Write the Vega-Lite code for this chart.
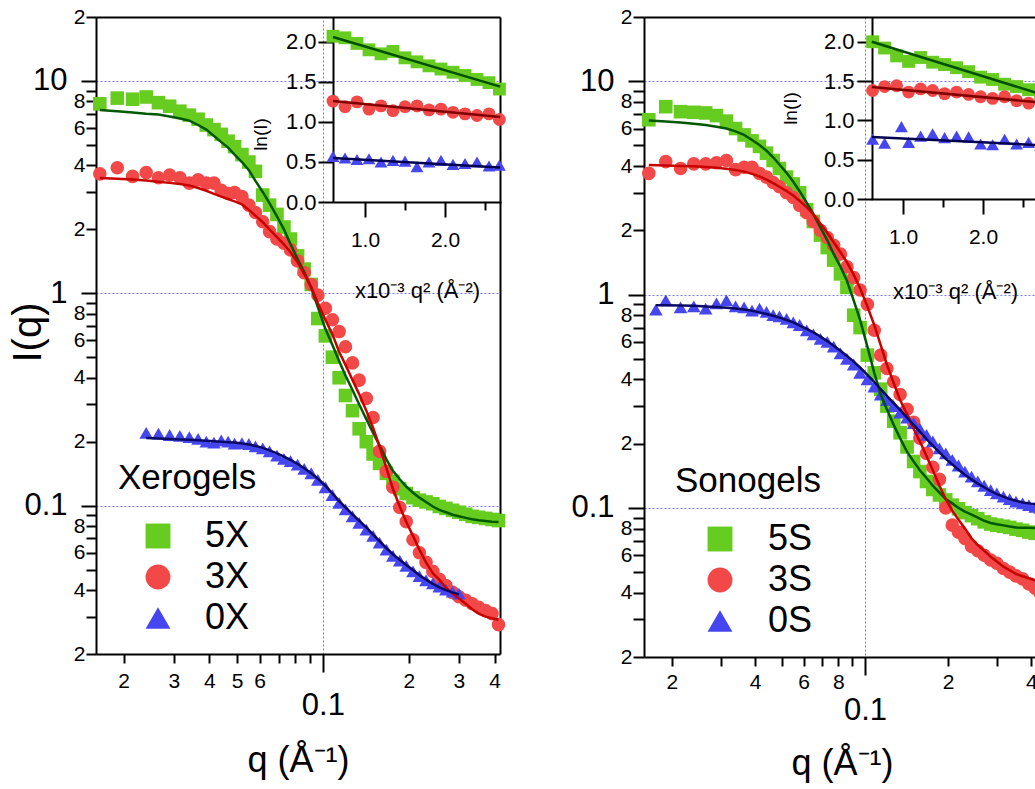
{
"$schema":"https://vega.github.io/schema/vega-lite/v6.json",
"autosize":{"type":"none"},
"padding":{"left":96,"top":17,"right":0,"bottom":132},
"width":939,"height":640,
"config":{"view":{"stroke":null},"font":"Liberation Sans",
"axis":{"domainColor":"#000","domainWidth":2,"tickColor":"#000","tickWidth":2,"labelColor":"#000","titleColor":"#000","titleFontWeight":"normal","labelFont":"Liberation Sans","titleFont":"Liberation Sans","grid":false,"labelOverlap":false,"labelBound":false,"labelFlush":false},
"legend":{"labelFont":"Liberation Sans","titleFont":"Liberation Sans","labelColor":"#000","titleColor":"#000"}},
"datasets":{
"lm":[
{"s":"5X","q":0.0165,"I":7.8,"f":7.3},{"s":"5X","q":0.019,"I":8.3,"f":7.2},{"s":"5X","q":0.0215,"I":8.2,"f":7.1},{"s":"5X","q":0.024,"I":8.4,"f":7.0},{"s":"5X","q":0.0265,"I":7.9,"f":6.95},{"s":"5X","q":0.029,"I":7.6,"f":6.8},{"s":"5X","q":0.0315,"I":7.2,"f":6.65},{"s":"5X","q":0.034,"I":6.9,"f":6.5},{"s":"5X","q":0.0365,"I":6.6,"f":6.2},{"s":"5X","q":0.039,"I":6.2,"f":5.9},{"s":"5X","q":0.0415,"I":5.9,"f":5.5},{"s":"5X","q":0.044,"I":5.6,"f":5.15},{"s":"5X","q":0.0465,"I":5.2,"f":4.85},{"s":"5X","q":0.049,"I":4.9,"f":4.5},{"s":"5X","q":0.052,"I":4.5,"f":4.15},{"s":"5X","q":0.055,"I":4.15,"f":3.8},{"s":"5X","q":0.058,"I":3.75,"f":3.38},{"s":"5X","q":0.0615,"I":2.9,"f":3.0},{"s":"5X","q":0.065,"I":2.6,"f":2.65},{"s":"5X","q":0.069,"I":2.35,"f":2.3},{"s":"5X","q":0.073,"I":2.05,"f":2.0},{"s":"5X","q":0.077,"I":1.8,"f":1.7},{"s":"5X","q":0.0815,"I":1.5,"f":1.45},{"s":"5X","q":0.086,"I":1.3,"f":1.26},{"s":"5X","q":0.091,"I":1.1,"f":1.06},{"s":"5X","q":0.096,"I":0.76,"f":0.86},{"s":"5X","q":0.102,"I":0.63,"f":0.68},{"s":"5X","q":0.108,"I":0.5,"f":0.57},{"s":"5X","q":0.114,"I":0.4,"f":0.48},{"s":"5X","q":0.12,"I":0.33,"f":0.41},{"s":"5X","q":0.127,"I":0.28,"f":0.35},{"s":"5X","q":0.134,"I":0.23,"f":0.3},{"s":"5X","q":0.142,"I":0.2,"f":0.255},{"s":"5X","q":0.15,"I":0.175,"f":0.22},{"s":"5X","q":0.158,"I":0.158,"f":0.192},{"s":"5X","q":0.167,"I":0.142,"f":0.165},{"s":"5X","q":0.176,"I":0.13,"f":0.146},{"s":"5X","q":0.186,"I":0.12,"f":0.133},{"s":"5X","q":0.196,"I":0.114,"f":0.123},{"s":"5X","q":0.207,"I":0.109,"f":0.115},{"s":"5X","q":0.218,"I":0.106,"f":0.109},{"s":"5X","q":0.23,"I":0.104,"f":0.104},{"s":"5X","q":0.243,"I":0.102,"f":0.099},{"s":"5X","q":0.256,"I":0.099,"f":0.0955},{"s":"5X","q":0.27,"I":0.097,"f":0.093},{"s":"5X","q":0.285,"I":0.095,"f":0.0905},{"s":"5X","q":0.3,"I":0.093,"f":0.089},{"s":"5X","q":0.317,"I":0.091,"f":0.0875},{"s":"5X","q":0.334,"I":0.089,"f":0.0862},{"s":"5X","q":0.352,"I":0.088,"f":0.0853},{"s":"5X","q":0.372,"I":0.087,"f":0.0846},{"s":"5X","q":0.392,"I":0.086,"f":0.084},{"s":"5X","q":0.413,"I":0.085,"f":0.0836},
{"s":"3X","q":0.0165,"I":3.65,"f":3.49},{"s":"3X","q":0.019,"I":3.9,"f":3.46},{"s":"3X","q":0.0215,"I":3.55,"f":3.43},{"s":"3X","q":0.024,"I":3.7,"f":3.4},{"s":"3X","q":0.0265,"I":3.5,"f":3.35},{"s":"3X","q":0.029,"I":3.6,"f":3.31},{"s":"3X","q":0.0315,"I":3.5,"f":3.27},{"s":"3X","q":0.034,"I":3.3,"f":3.22},{"s":"3X","q":0.0365,"I":3.42,"f":3.13},{"s":"3X","q":0.039,"I":3.3,"f":3.04},{"s":"3X","q":0.0415,"I":3.3,"f":2.94},{"s":"3X","q":0.044,"I":3.05,"f":2.85},{"s":"3X","q":0.0465,"I":2.95,"f":2.78},{"s":"3X","q":0.049,"I":2.98,"f":2.71},{"s":"3X","q":0.052,"I":2.85,"f":2.62},{"s":"3X","q":0.055,"I":2.6,"f":2.47},{"s":"3X","q":0.058,"I":2.4,"f":2.32},{"s":"3X","q":0.0615,"I":2.17,"f":2.16},{"s":"3X","q":0.065,"I":1.95,"f":2.0},{"s":"3X","q":0.069,"I":1.8,"f":1.84},{"s":"3X","q":0.073,"I":1.72,"f":1.7},{"s":"3X","q":0.077,"I":1.6,"f":1.56},{"s":"3X","q":0.0815,"I":1.42,"f":1.4},{"s":"3X","q":0.086,"I":1.25,"f":1.23},{"s":"3X","q":0.091,"I":1.1,"f":1.07},{"s":"3X","q":0.096,"I":0.98,"f":0.9},{"s":"3X","q":0.102,"I":0.85,"f":0.75},{"s":"3X","q":0.108,"I":0.75,"f":0.64},{"s":"3X","q":0.114,"I":0.66,"f":0.53},{"s":"3X","q":0.12,"I":0.56,"f":0.46},{"s":"3X","q":0.127,"I":0.47,"f":0.39},{"s":"3X","q":0.134,"I":0.39,"f":0.335},{"s":"3X","q":0.142,"I":0.32,"f":0.28},{"s":"3X","q":0.15,"I":0.26,"f":0.232},{"s":"3X","q":0.158,"I":0.18,"f":0.19},{"s":"3X","q":0.167,"I":0.145,"f":0.15},{"s":"3X","q":0.176,"I":0.122,"f":0.12},{"s":"3X","q":0.186,"I":0.098,"f":0.099},{"s":"3X","q":0.196,"I":0.084,"f":0.084},{"s":"3X","q":0.207,"I":0.069,"f":0.072},{"s":"3X","q":0.218,"I":0.06,"f":0.062},{"s":"3X","q":0.23,"I":0.054,"f":0.054},{"s":"3X","q":0.243,"I":0.049,"f":0.048},{"s":"3X","q":0.256,"I":0.045,"f":0.0448},{"s":"3X","q":0.27,"I":0.042,"f":0.041},{"s":"3X","q":0.285,"I":0.039,"f":0.0385},{"s":"3X","q":0.3,"I":0.0372,"f":0.0365},{"s":"3X","q":0.317,"I":0.0358,"f":0.0345},{"s":"3X","q":0.334,"I":0.0345,"f":0.0325},{"s":"3X","q":0.352,"I":0.0332,"f":0.031},{"s":"3X","q":0.372,"I":0.032,"f":0.03},{"s":"3X","q":0.392,"I":0.031,"f":0.0295},{"s":"3X","q":0.413,"I":0.0275,"f":0.029},
{"s":"0X","q":0.024,"I":0.22,"f":0.208},{"s":"0X","q":0.0265,"I":0.218,"f":0.207},{"s":"0X","q":0.029,"I":0.215,"f":0.206},{"s":"0X","q":0.0315,"I":0.213,"f":0.205},{"s":"0X","q":0.034,"I":0.21,"f":0.204},{"s":"0X","q":0.0365,"I":0.206,"f":0.203},{"s":"0X","q":0.039,"I":0.2,"f":0.202},{"s":"0X","q":0.0415,"I":0.198,"f":0.201},{"s":"0X","q":0.044,"I":0.203,"f":0.2},{"s":"0X","q":0.0465,"I":0.2,"f":0.199},{"s":"0X","q":0.049,"I":0.196,"f":0.198},{"s":"0X","q":0.052,"I":0.197,"f":0.196},{"s":"0X","q":0.055,"I":0.195,"f":0.194},{"s":"0X","q":0.058,"I":0.19,"f":0.191},{"s":"0X","q":0.0615,"I":0.186,"f":0.187},{"s":"0X","q":0.065,"I":0.18,"f":0.182},{"s":"0X","q":0.069,"I":0.172,"f":0.176},{"s":"0X","q":0.073,"I":0.166,"f":0.17},{"s":"0X","q":0.077,"I":0.162,"f":0.164},{"s":"0X","q":0.0815,"I":0.156,"f":0.157},{"s":"0X","q":0.086,"I":0.149,"f":0.15},{"s":"0X","q":0.091,"I":0.142,"f":0.142},{"s":"0X","q":0.096,"I":0.132,"f":0.134},{"s":"0X","q":0.102,"I":0.122,"f":0.124},{"s":"0X","q":0.108,"I":0.112,"f":0.114},{"s":"0X","q":0.114,"I":0.103,"f":0.105},{"s":"0X","q":0.12,"I":0.096,"f":0.098},{"s":"0X","q":0.127,"I":0.089,"f":0.091},{"s":"0X","q":0.134,"I":0.083,"f":0.085},{"s":"0X","q":0.142,"I":0.077,"f":0.079},{"s":"0X","q":0.15,"I":0.072,"f":0.073},{"s":"0X","q":0.158,"I":0.067,"f":0.068},{"s":"0X","q":0.167,"I":0.062,"f":0.063},{"s":"0X","q":0.176,"I":0.058,"f":0.059},{"s":"0X","q":0.186,"I":0.055,"f":0.0555},{"s":"0X","q":0.196,"I":0.052,"f":0.0525},{"s":"0X","q":0.207,"I":0.049,"f":0.0497},{"s":"0X","q":0.218,"I":0.0465,"f":0.047},{"s":"0X","q":0.23,"I":0.0445,"f":0.0448},{"s":"0X","q":0.243,"I":0.043,"f":0.0428},{"s":"0X","q":0.256,"I":0.0415,"f":0.0412},{"s":"0X","q":0.27,"I":0.0402,"f":0.04},{"s":"0X","q":0.285,"I":0.0393,"f":0.039},{"s":"0X","q":0.3,"I":0.0385,"f":0.0382}
],
"rm":[
{"s":"5S","q":0.0165,"I":6.6,"f":6.55},{"s":"5S","q":0.019,"I":7.6,"f":6.48},{"s":"5S","q":0.0215,"I":7.2,"f":6.4},{"s":"5S","q":0.024,"I":7.15,"f":6.32},{"s":"5S","q":0.0265,"I":7.1,"f":6.24},{"s":"5S","q":0.029,"I":6.9,"f":6.12},{"s":"5S","q":0.0315,"I":6.5,"f":6.0},{"s":"5S","q":0.034,"I":6.0,"f":5.82},{"s":"5S","q":0.0365,"I":5.6,"f":5.6},{"s":"5S","q":0.039,"I":5.25,"f":5.3},{"s":"5S","q":0.0415,"I":4.95,"f":5.02},{"s":"5S","q":0.044,"I":4.6,"f":4.72},{"s":"5S","q":0.0465,"I":4.25,"f":4.4},{"s":"5S","q":0.049,"I":3.9,"f":4.07},{"s":"5S","q":0.052,"I":3.55,"f":3.72},{"s":"5S","q":0.055,"I":3.3,"f":3.38},{"s":"5S","q":0.058,"I":3.0,"f":3.05},{"s":"5S","q":0.0615,"I":2.5,"f":2.7},{"s":"5S","q":0.065,"I":2.2,"f":2.38},{"s":"5S","q":0.069,"I":1.9,"f":2.06},{"s":"5S","q":0.073,"I":1.66,"f":1.8},{"s":"5S","q":0.077,"I":1.45,"f":1.55},{"s":"5S","q":0.0815,"I":1.25,"f":1.35},{"s":"5S","q":0.086,"I":1.08,"f":1.16},{"s":"5S","q":0.091,"I":0.8,"f":0.94},{"s":"5S","q":0.096,"I":0.7,"f":0.76},{"s":"5S","q":0.102,"I":0.52,"f":0.57},{"s":"5S","q":0.108,"I":0.43,"f":0.43},{"s":"5S","q":0.114,"I":0.36,"f":0.34},{"s":"5S","q":0.12,"I":0.3,"f":0.29},{"s":"5S","q":0.127,"I":0.255,"f":0.245},{"s":"5S","q":0.134,"I":0.225,"f":0.212},{"s":"5S","q":0.142,"I":0.193,"f":0.183},{"s":"5S","q":0.15,"I":0.165,"f":0.165},{"s":"5S","q":0.158,"I":0.148,"f":0.15},{"s":"5S","q":0.167,"I":0.133,"f":0.138},{"s":"5S","q":0.176,"I":0.122,"f":0.127},{"s":"5S","q":0.186,"I":0.115,"f":0.118},{"s":"5S","q":0.196,"I":0.109,"f":0.11},{"s":"5S","q":0.207,"I":0.103,"f":0.105},{"s":"5S","q":0.218,"I":0.099,"f":0.1},{"s":"5S","q":0.23,"I":0.095,"f":0.096},{"s":"5S","q":0.243,"I":0.092,"f":0.093},{"s":"5S","q":0.256,"I":0.089,"f":0.09},{"s":"5S","q":0.27,"I":0.086,"f":0.087},{"s":"5S","q":0.285,"I":0.084,"f":0.085},{"s":"5S","q":0.3,"I":0.083,"f":0.0838},{"s":"5S","q":0.317,"I":0.082,"f":0.0828},{"s":"5S","q":0.334,"I":0.081,"f":0.0818},{"s":"5S","q":0.352,"I":0.0795,"f":0.081},{"s":"5S","q":0.372,"I":0.0785,"f":0.0808},{"s":"5S","q":0.392,"I":0.077,"f":0.0806},{"s":"5S","q":0.413,"I":0.076,"f":0.0805},{"s":"5S","q":0.43,"I":0.076,"f":0.0804},
{"s":"3S","q":0.0165,"I":3.7,"f":4.05},{"s":"3S","q":0.019,"I":4.2,"f":4.03},{"s":"3S","q":0.0215,"I":3.9,"f":4.01},{"s":"3S","q":0.024,"I":4.1,"f":3.99},{"s":"3S","q":0.0265,"I":4.1,"f":3.96},{"s":"3S","q":0.029,"I":4.15,"f":3.93},{"s":"3S","q":0.0315,"I":4.25,"f":3.89},{"s":"3S","q":0.034,"I":3.85,"f":3.84},{"s":"3S","q":0.0365,"I":3.95,"f":3.77},{"s":"3S","q":0.039,"I":3.95,"f":3.68},{"s":"3S","q":0.0415,"I":3.7,"f":3.58},{"s":"3S","q":0.044,"I":3.55,"f":3.46},{"s":"3S","q":0.0465,"I":3.35,"f":3.33},{"s":"3S","q":0.049,"I":3.2,"f":3.2},{"s":"3S","q":0.052,"I":3.0,"f":3.06},{"s":"3S","q":0.055,"I":2.85,"f":2.91},{"s":"3S","q":0.058,"I":2.62,"f":2.75},{"s":"3S","q":0.0615,"I":2.42,"f":2.57},{"s":"3S","q":0.065,"I":2.2,"f":2.38},{"s":"3S","q":0.069,"I":2.0,"f":2.15},{"s":"3S","q":0.073,"I":1.85,"f":1.95},{"s":"3S","q":0.077,"I":1.7,"f":1.76},{"s":"3S","q":0.0815,"I":1.55,"f":1.58},{"s":"3S","q":0.086,"I":1.35,"f":1.42},{"s":"3S","q":0.091,"I":1.2,"f":1.24},{"s":"3S","q":0.096,"I":1.05,"f":1.07},{"s":"3S","q":0.102,"I":0.9,"f":0.88},{"s":"3S","q":0.108,"I":0.68,"f":0.72},{"s":"3S","q":0.114,"I":0.52,"f":0.58},{"s":"3S","q":0.12,"I":0.45,"f":0.47},{"s":"3S","q":0.127,"I":0.39,"f":0.385},{"s":"3S","q":0.134,"I":0.34,"f":0.32},{"s":"3S","q":0.142,"I":0.29,"f":0.275},{"s":"3S","q":0.15,"I":0.252,"f":0.235},{"s":"3S","q":0.158,"I":0.212,"f":0.205},{"s":"3S","q":0.167,"I":0.18,"f":0.175},{"s":"3S","q":0.176,"I":0.155,"f":0.15},{"s":"3S","q":0.186,"I":0.136,"f":0.127},{"s":"3S","q":0.196,"I":0.1,"f":0.11},{"s":"3S","q":0.207,"I":0.083,"f":0.097},{"s":"3S","q":0.218,"I":0.077,"f":0.088},{"s":"3S","q":0.23,"I":0.072,"f":0.08},{"s":"3S","q":0.243,"I":0.066,"f":0.072},{"s":"3S","q":0.256,"I":0.063,"f":0.067},{"s":"3S","q":0.27,"I":0.06,"f":0.063},{"s":"3S","q":0.285,"I":0.057,"f":0.059},{"s":"3S","q":0.3,"I":0.055,"f":0.056},{"s":"3S","q":0.317,"I":0.052,"f":0.053},{"s":"3S","q":0.334,"I":0.05,"f":0.051},{"s":"3S","q":0.352,"I":0.048,"f":0.049},{"s":"3S","q":0.372,"I":0.0465,"f":0.0478},{"s":"3S","q":0.392,"I":0.044,"f":0.0468},{"s":"3S","q":0.413,"I":0.042,"f":0.0458},{"s":"3S","q":0.43,"I":0.04,"f":0.0452},
{"s":"0S","q":0.0175,"I":0.85,"f":0.89},{"s":"0S","q":0.019,"I":0.94,"f":0.89},{"s":"0S","q":0.0215,"I":0.87,"f":0.888},{"s":"0S","q":0.024,"I":0.88,"f":0.885},{"s":"0S","q":0.0265,"I":0.86,"f":0.88},{"s":"0S","q":0.029,"I":0.91,"f":0.875},{"s":"0S","q":0.0315,"I":0.94,"f":0.868},{"s":"0S","q":0.034,"I":0.88,"f":0.86},{"s":"0S","q":0.0365,"I":0.87,"f":0.85},{"s":"0S","q":0.039,"I":0.84,"f":0.84},{"s":"0S","q":0.0415,"I":0.86,"f":0.825},{"s":"0S","q":0.044,"I":0.83,"f":0.81},{"s":"0S","q":0.0465,"I":0.8,"f":0.795},{"s":"0S","q":0.049,"I":0.79,"f":0.78},{"s":"0S","q":0.052,"I":0.77,"f":0.76},{"s":"0S","q":0.055,"I":0.74,"f":0.74},{"s":"0S","q":0.058,"I":0.72,"f":0.715},{"s":"0S","q":0.0615,"I":0.68,"f":0.69},{"s":"0S","q":0.065,"I":0.65,"f":0.665},{"s":"0S","q":0.069,"I":0.62,"f":0.635},{"s":"0S","q":0.073,"I":0.6,"f":0.605},{"s":"0S","q":0.077,"I":0.57,"f":0.575},{"s":"0S","q":0.0815,"I":0.53,"f":0.545},{"s":"0S","q":0.086,"I":0.5,"f":0.515},{"s":"0S","q":0.091,"I":0.47,"f":0.485},{"s":"0S","q":0.096,"I":0.43,"f":0.455},{"s":"0S","q":0.102,"I":0.4,"f":0.42},{"s":"0S","q":0.108,"I":0.37,"f":0.39},{"s":"0S","q":0.114,"I":0.34,"f":0.36},{"s":"0S","q":0.12,"I":0.32,"f":0.335},{"s":"0S","q":0.127,"I":0.3,"f":0.31},{"s":"0S","q":0.134,"I":0.28,"f":0.288},{"s":"0S","q":0.142,"I":0.265,"f":0.265},{"s":"0S","q":0.15,"I":0.25,"f":0.245},{"s":"0S","q":0.158,"I":0.235,"f":0.228},{"s":"0S","q":0.167,"I":0.22,"f":0.21},{"s":"0S","q":0.176,"I":0.205,"f":0.196},{"s":"0S","q":0.186,"I":0.19,"f":0.182},{"s":"0S","q":0.196,"I":0.18,"f":0.17},{"s":"0S","q":0.207,"I":0.168,"f":0.16},{"s":"0S","q":0.218,"I":0.158,"f":0.151},{"s":"0S","q":0.23,"I":0.148,"f":0.143},{"s":"0S","q":0.243,"I":0.14,"f":0.136},{"s":"0S","q":0.256,"I":0.133,"f":0.13},{"s":"0S","q":0.27,"I":0.127,"f":0.125},{"s":"0S","q":0.285,"I":0.121,"f":0.12},{"s":"0S","q":0.3,"I":0.117,"f":0.116},{"s":"0S","q":0.317,"I":0.113,"f":0.113},{"s":"0S","q":0.334,"I":0.11,"f":0.11},{"s":"0S","q":0.352,"I":0.107,"f":0.108},{"s":"0S","q":0.372,"I":0.105,"f":0.106},{"s":"0S","q":0.392,"I":0.103,"f":0.105},{"s":"0S","q":0.413,"I":0.101,"f":0.104},{"s":"0S","q":0.43,"I":0.1,"f":0.103}
],
"li":[
{"s":"5X","x":0.6,"y":2.07},{"s":"5X","x":0.75,"y":2.05},{"s":"5X","x":0.9,"y":1.98},{"s":"5X","x":1.05,"y":1.9},{"s":"5X","x":1.2,"y":1.85},{"s":"5X","x":1.35,"y":1.88},{"s":"5X","x":1.5,"y":1.8},{"s":"5X","x":1.65,"y":1.75},{"s":"5X","x":1.8,"y":1.7},{"s":"5X","x":1.95,"y":1.66},{"s":"5X","x":2.1,"y":1.62},{"s":"5X","x":2.25,"y":1.58},{"s":"5X","x":2.4,"y":1.53},{"s":"5X","x":2.55,"y":1.49},{"s":"5X","x":2.68,"y":1.41},
{"s":"3X","x":0.6,"y":1.26},{"s":"3X","x":0.75,"y":1.19},{"s":"3X","x":0.9,"y":1.25},{"s":"3X","x":1.05,"y":1.16},{"s":"3X","x":1.2,"y":1.2},{"s":"3X","x":1.35,"y":1.14},{"s":"3X","x":1.5,"y":1.19},{"s":"3X","x":1.65,"y":1.2},{"s":"3X","x":1.8,"y":1.15},{"s":"3X","x":1.95,"y":1.16},{"s":"3X","x":2.1,"y":1.12},{"s":"3X","x":2.25,"y":1.1},{"s":"3X","x":2.4,"y":1.08},{"s":"3X","x":2.55,"y":1.1},{"s":"3X","x":2.68,"y":1.03},
{"s":"0X","x":0.6,"y":0.57},{"s":"0X","x":0.75,"y":0.55},{"s":"0X","x":0.9,"y":0.53},{"s":"0X","x":1.05,"y":0.54},{"s":"0X","x":1.2,"y":0.5},{"s":"0X","x":1.35,"y":0.52},{"s":"0X","x":1.5,"y":0.51},{"s":"0X","x":1.65,"y":0.44},{"s":"0X","x":1.8,"y":0.5},{"s":"0X","x":1.95,"y":0.52},{"s":"0X","x":2.1,"y":0.47},{"s":"0X","x":2.25,"y":0.48},{"s":"0X","x":2.4,"y":0.5},{"s":"0X","x":2.55,"y":0.45},{"s":"0X","x":2.68,"y":0.46}
],
"lf":[
{"s":"5X","x":0.6,"y":2.06},{"s":"5X","x":2.69,"y":1.44},{"s":"3X","x":0.6,"y":1.26},{"s":"3X","x":2.69,"y":1.06},{"s":"0X","x":0.6,"y":0.55},{"s":"0X","x":2.69,"y":0.43}
],
"ri":[
{"s":"5S","x":0.62,"y":2.0},{"s":"5S","x":0.77,"y":1.92},{"s":"5S","x":0.92,"y":1.82},{"s":"5S","x":1.07,"y":1.75},{"s":"5S","x":1.22,"y":1.8},{"s":"5S","x":1.37,"y":1.74},{"s":"5S","x":1.52,"y":1.71},{"s":"5S","x":1.67,"y":1.67},{"s":"5S","x":1.82,"y":1.62},{"s":"5S","x":1.97,"y":1.55},{"s":"5S","x":2.12,"y":1.52},{"s":"5S","x":2.27,"y":1.46},{"s":"5S","x":2.42,"y":1.43},{"s":"5S","x":2.57,"y":1.39},{"s":"5S","x":2.72,"y":1.35},
{"s":"3S","x":0.62,"y":1.38},{"s":"3S","x":0.77,"y":1.43},{"s":"3S","x":0.92,"y":1.44},{"s":"3S","x":1.07,"y":1.36},{"s":"3S","x":1.22,"y":1.4},{"s":"3S","x":1.37,"y":1.38},{"s":"3S","x":1.52,"y":1.34},{"s":"3S","x":1.67,"y":1.36},{"s":"3S","x":1.82,"y":1.33},{"s":"3S","x":1.97,"y":1.3},{"s":"3S","x":2.12,"y":1.28},{"s":"3S","x":2.27,"y":1.3},{"s":"3S","x":2.42,"y":1.25},{"s":"3S","x":2.57,"y":1.22},{"s":"3S","x":2.72,"y":1.24},
{"s":"0S","x":0.62,"y":0.76},{"s":"0S","x":0.77,"y":0.71},{"s":"0S","x":0.98,"y":0.92},{"s":"0S","x":1.07,"y":0.72},{"s":"0S","x":1.22,"y":0.8},{"s":"0S","x":1.37,"y":0.83},{"s":"0S","x":1.52,"y":0.78},{"s":"0S","x":1.67,"y":0.8},{"s":"0S","x":1.82,"y":0.79},{"s":"0S","x":1.97,"y":0.7},{"s":"0S","x":2.12,"y":0.69},{"s":"0S","x":2.27,"y":0.76},{"s":"0S","x":2.42,"y":0.7},{"s":"0S","x":2.57,"y":0.72},{"s":"0S","x":2.72,"y":0.68}
],
"rf":[
{"s":"5S","x":0.61,"y":2.0},{"s":"5S","x":2.7,"y":1.34},{"s":"3S","x":0.61,"y":1.425},{"s":"3S","x":2.7,"y":1.23},{"s":"0S","x":0.61,"y":0.79},{"s":"0S","x":2.7,"y":0.685}
]
},
"layer":[
{"data":{"name":"lm"},
 "layer":[
  {"mark":{"type":"point","filled":true,"opacity":1,"size":185},
   "encoding":{
    "x":{"field":"q","type":"quantitative","scale":{"type":"log","domain":[0.016,0.418],"range":[0,404]},
     "axis":{"orient":"bottom","offset":-3,"values":[0.02,0.03,0.04,0.05,0.06,0.07,0.08,0.09,0.1,0.2,0.3,0.4],
      "labelExpr":"datum.value==0.1?'0.1':datum.value<0.1?(round(datum.value*100)<=6?''+round(datum.value*100):''):''+round(datum.value*10)",
      "labelFontSize":{"condition":{"test":"datum.value==0.1","value":31},"value":21},
      "labelPadding":{"condition":{"test":"datum.value==0.1","value":18},"value":7},
      "tickSize":{"condition":{"test":"datum.value==0.1","value":18},"value":9},
      "grid":true,"gridColor":"#7c7ce0","gridDash":[2,2],"gridWidth":1,
      "gridOpacity":{"condition":{"test":"datum.value==0.1","value":1},"value":0},
      "title":"q (Å⁻¹)","titleFontSize":36,"titleY":106,"titleBaseline":"middle"}},
    "y":{"field":"I","type":"quantitative","scale":{"type":"log","domain":[0.02,20],"range":[637,0]},
     "axis":{"orient":"left","values":[0.02,0.03,0.04,0.05,0.06,0.07,0.08,0.09,0.1,0.2,0.3,0.4,0.5,0.6,0.7,0.8,0.9,1,2,3,4,5,6,7,8,9,10,20],
      "labelExpr":"datum.value==10?'10':datum.value==1?'1':datum.value==0.1?'0.1':((datum.value<0.1?round(datum.value*100):datum.value<1?round(datum.value*10):datum.value<10?round(datum.value):round(datum.value/10))%2==0?''+(datum.value<0.1?round(datum.value*100):datum.value<1?round(datum.value*10):datum.value<10?round(datum.value):round(datum.value/10)):'')",
      "labelFontSize":{"condition":{"test":"datum.value==10||datum.value==1||datum.value==0.1","value":31},"value":21},
      "labelPadding":{"condition":{"test":"datum.value==10||datum.value==1||datum.value==0.1","value":14},"value":1},
      "tickSize":{"condition":{"test":"datum.value==10||datum.value==1||datum.value==0.1","value":15},"value":10},
      "grid":true,"gridColor":"#7c7ce0","gridDash":[2,2],"gridWidth":1,
      "gridOpacity":{"condition":{"test":"datum.value==10||datum.value==1||datum.value==0.1","value":1},"value":0},
      "title":"I(q)","titleFontSize":40,"titleX":-68,"titleY":315,"titleBaseline":"middle"}},
    "color":{"field":"s","type":"nominal","scale":{"domain":["5X","3X","0X"],"range":["#66cc1f","#f24848","#4646f0"]},
     "legend":{"orient":"none","legendX":22,"legendY":444,"title":"Xerogels","titleFontSize":35,"titleFontWeight":"normal","labelFontSize":36,"symbolSize":620,"symbolOffset":22,"labelOffset":29,"rowPadding":5,"titlePadding":22,"padding":0,"symbolStrokeWidth":0}},
    "shape":{"field":"s","type":"nominal","scale":{"domain":["5X","3X","0X"],"range":["square","circle","triangle-up"]},
     "legend":{"orient":"none","legendX":22,"legendY":444,"title":"Xerogels","titleFontSize":35,"titleFontWeight":"normal","labelFontSize":36,"symbolSize":620,"symbolOffset":22,"labelOffset":29,"rowPadding":5,"titlePadding":22,"padding":0,"symbolStrokeWidth":0}}
   }},
  {"mark":{"type":"line","strokeWidth":2.5},
   "encoding":{
    "x":{"field":"q","type":"quantitative","scale":{"type":"log","domain":[0.016,0.418],"range":[0,404]},
     "axis":{"orient":"top","ticks":false,"labels":false,"title":null,"grid":false}},
    "y":{"field":"f","type":"quantitative","scale":{"type":"log","domain":[0.02,20],"range":[637,0]},
     "axis":{"orient":"right","offset":-535,"ticks":false,"labels":false,"title":null,"grid":false}},
    "stroke":{"field":"s","type":"nominal","scale":{"domain":["5X","3X","0X"],"range":["#005800","#c80000","#0a0a64"]},"legend":null}
   }}
 ],
 "resolve":{"axis":{"x":"independent","y":"independent"}}
},
{"layer":[
  {"data":{"name":"li"},"mark":{"type":"point","filled":true,"opacity":1,"size":165},
   "encoding":{
    "x":{"field":"x","type":"quantitative","scale":{"domain":[0.6,2.7],"range":[237,405],"zero":false},
     "axis":{"orient":"bottom","offset":-455,"values":[1,1.5,2,2.5],"labelExpr":"datum.value==1?'1.0':datum.value==2?'2.0':''","labelFontSize":21,
      "tickSize":{"condition":{"test":"datum.value==1||datum.value==2","value":15},"value":8},
      "labelPadding":12,"title":"x10⁻³ q² (Å⁻²)","titleFontSize":22,"titleY":88,"titleBaseline":"middle"}},
    "y":{"field":"y","type":"quantitative","scale":{"domain":[0,2.31],"range":[185,0],"zero":false},
     "axis":{"orient":"left","offset":-237,"values":[0,0.5,1,1.5,2],"format":".1f","labelFontSize":22,"tickSize":15,"labelPadding":2,
      "title":"ln(I)","titleFontSize":19,"titleX":-73,"titleY":117,"titleBaseline":"middle"}},
    "color":{"field":"s","type":"nominal","scale":{"domain":["5X","3X","0X"],"range":["#66cc1f","#f24848","#4646f0"]},"legend":null},
    "shape":{"field":"s","type":"nominal","scale":{"domain":["5X","3X","0X"],"range":["square","circle","triangle-up"]},"legend":null}
   }},
  {"data":{"name":"lf"},"mark":{"type":"line","strokeWidth":2.5},
   "encoding":{
    "x":{"field":"x","type":"quantitative","scale":{"domain":[0.6,2.7],"range":[237,405],"zero":false}},
    "y":{"field":"y","type":"quantitative","scale":{"domain":[0,2.31],"range":[185,0],"zero":false}},
    "stroke":{"field":"s","type":"nominal","scale":{"domain":["5X","3X","0X"],"range":["#005000","#800000","#000050"]},"legend":null}
   }}
]},
{"data":{"name":"rm"},
 "layer":[
  {"mark":{"type":"point","filled":true,"opacity":1,"size":185},
   "encoding":{
    "x":{"field":"q","type":"quantitative","scale":{"type":"log","domain":[0.01585,0.43],"range":[548,944]},
     "axis":{"orient":"bottom","values":[0.02,0.03,0.04,0.05,0.06,0.07,0.08,0.09,0.1,0.2,0.3,0.4],
      "labelExpr":"datum.value==0.1?'0.1':datum.value<0.1?(round(datum.value*100)%2==0?''+round(datum.value*100):''):(round(datum.value*10)%2==0?''+round(datum.value*10):'')",
      "labelFontSize":{"condition":{"test":"datum.value==0.1","value":31},"value":21},
      "labelPadding":{"condition":{"test":"datum.value==0.1","value":20},"value":5},
      "tickSize":{"condition":{"test":"datum.value==0.1","value":18},"value":9},
      "grid":true,"gridColor":"#7c7ce0","gridDash":[2,2],"gridWidth":1,
      "gridOpacity":{"condition":{"test":"datum.value==0.1","value":1},"value":0},
      "title":"q (Å⁻¹)","titleFontSize":36,"titleY":106,"titleBaseline":"middle"}},
    "y":{"field":"I","type":"quantitative","scale":{"type":"log","domain":[0.02,20],"range":[640,0]},
     "axis":{"orient":"left","offset":-548,"values":[0.02,0.03,0.04,0.05,0.06,0.07,0.08,0.09,0.1,0.2,0.3,0.4,0.5,0.6,0.7,0.8,0.9,1,2,3,4,5,6,7,8,9,10,20],
      "labelExpr":"datum.value==10?'10':datum.value==1?'1':datum.value==0.1?'0.1':((datum.value<0.1?round(datum.value*100):datum.value<1?round(datum.value*10):datum.value<10?round(datum.value):round(datum.value/10))%2==0?''+(datum.value<0.1?round(datum.value*100):datum.value<1?round(datum.value*10):datum.value<10?round(datum.value):round(datum.value/10)):'')",
      "labelFontSize":{"condition":{"test":"datum.value==10||datum.value==1||datum.value==0.1","value":31},"value":21},
      "labelPadding":{"condition":{"test":"datum.value==10||datum.value==1||datum.value==0.1","value":14},"value":1},
      "tickSize":{"condition":{"test":"datum.value==10||datum.value==1||datum.value==0.1","value":16},"value":11},
      "grid":true,"gridColor":"#7c7ce0","gridDash":[2,2],"gridWidth":1,
      "gridOpacity":{"condition":{"test":"datum.value==10||datum.value==1||datum.value==0.1","value":1},"value":0},
      "title":null}},
    "color":{"field":"s","type":"nominal","scale":{"domain":["5S","3S","0S"],"range":["#66cc1f","#f24848","#4646f0"]},
     "legend":{"orient":"none","legendX":579,"legendY":447,"title":"Sonogels","titleFontSize":35,"titleFontWeight":"normal","labelFontSize":36,"symbolSize":620,"symbolOffset":27,"labelOffset":30,"rowPadding":5,"titlePadding":22,"padding":0,"symbolStrokeWidth":0}},
    "shape":{"field":"s","type":"nominal","scale":{"domain":["5S","3S","0S"],"range":["square","circle","triangle-up"]},
     "legend":{"orient":"none","legendX":579,"legendY":447,"title":"Sonogels","titleFontSize":35,"titleFontWeight":"normal","labelFontSize":36,"symbolSize":620,"symbolOffset":27,"labelOffset":30,"rowPadding":5,"titlePadding":22,"padding":0,"symbolStrokeWidth":0}}
   }},
  {"mark":{"type":"line","strokeWidth":2.5},
   "encoding":{
    "x":{"field":"q","type":"quantitative","scale":{"type":"log","domain":[0.01585,0.43],"range":[548,944]},
     "axis":{"orient":"top","ticks":false,"labels":false,"title":null,"grid":false}},
    "y":{"field":"f","type":"quantitative","scale":{"type":"log","domain":[0.02,20],"range":[640,0]},
     "axis":{"orient":"right","offset":5,"ticks":false,"labels":false,"title":null,"grid":false}},
    "stroke":{"field":"s","type":"nominal","scale":{"domain":["5S","3S","0S"],"range":["#005800","#c80000","#0a0a64"]},"legend":null}
   }}
 ],
 "resolve":{"axis":{"x":"independent","y":"independent"}}
},
{"layer":[
  {"data":{"name":"ri"},"mark":{"type":"point","filled":true,"opacity":1,"size":165},
   "encoding":{
    "x":{"field":"x","type":"quantitative","scale":{"domain":[0.6,2.7],"range":[775,943],"zero":false},
     "axis":{"orient":"bottom","offset":-458,"values":[1,1.5,2,2.5],"labelExpr":"datum.value==1?'1.0':datum.value==2?'2.0':''","labelFontSize":21,
      "tickSize":{"condition":{"test":"datum.value==1||datum.value==2","value":15},"value":8},
      "labelPadding":12,"title":"x10⁻³ q² (Å⁻²)","titleFontSize":22,"titleY":92,"titleBaseline":"middle"}},
    "y":{"field":"y","type":"quantitative","scale":{"domain":[0,2.315],"range":[182,0],"zero":false},
     "axis":{"orient":"left","offset":-776,"values":[0,0.5,1,1.5,2],"format":".1f","labelFontSize":22,"tickSize":15,"labelPadding":3,
      "title":"ln(I)","titleFontSize":19,"titleX":-82,"titleY":91,"titleBaseline":"middle"}},
    "color":{"field":"s","type":"nominal","scale":{"domain":["5S","3S","0S"],"range":["#66cc1f","#f24848","#4646f0"]},"legend":null},
    "shape":{"field":"s","type":"nominal","scale":{"domain":["5S","3S","0S"],"range":["square","circle","triangle-up"]},"legend":null}
   }},
  {"data":{"name":"rf"},"mark":{"type":"line","strokeWidth":2.5},
   "encoding":{
    "x":{"field":"x","type":"quantitative","scale":{"domain":[0.6,2.7],"range":[775,943],"zero":false}},
    "y":{"field":"y","type":"quantitative","scale":{"domain":[0,2.315],"range":[182,0],"zero":false}},
    "stroke":{"field":"s","type":"nominal","scale":{"domain":["5S","3S","0S"],"range":["#005000","#800000","#000050"]},"legend":null}
   }}
]}
],
"resolve":{"scale":{"x":"independent","y":"independent","color":"independent","shape":"independent","stroke":"independent"},"axis":{"x":"independent","y":"independent"},"legend":{"color":"independent","shape":"independent","stroke":"independent"}}
}
